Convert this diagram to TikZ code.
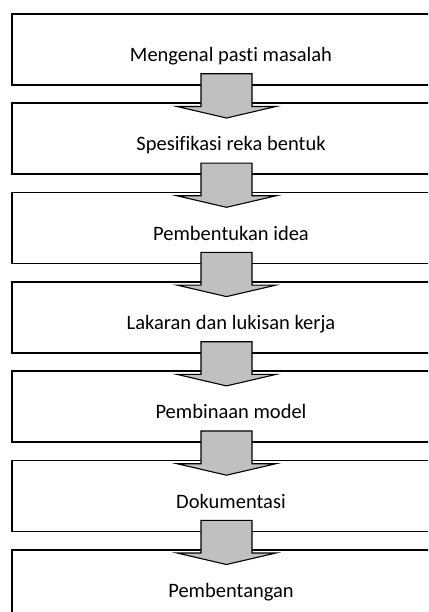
\documentclass[tikz,border=0pt]{standalone}
\usepackage{fontspec}
\setmainfont{Carlito}[Ligatures={NoCommon}]
\usepackage{color}
\definecolor{myarrowgray}{RGB}{192,192,192}
\usepackage{tikz}
\usetikzlibrary{calc}
\tikzset{stepbox/.style={draw,line width=1.6pt,fill=white,minimum width=438pt,inner sep=0pt,
  text height=47.7pt,text depth=23.3pt,font=\fontsize{20.5}{24}\selectfont}}
\tikzset{flowarrow/.style={draw,line width=1.1pt,fill=myarrowgray,line join=miter}}
% block arrow from the bottom of #1 into the top of #2
\newcommand{\flowstep}[2]{
  \path ($(#1.south)+(-4.5,-12)$) coordinate (#1t)
        ($(#2.north)+(-4.5,4)$) coordinate (#1h)
        ($(#2.north)+(-4.5,15.5)$) coordinate (#1p);
  \draw[flowarrow] ($(#1t)+(-25.5,0)$) -- ($(#1t)+(25.5,0)$) -- ($(#1h)+(25.5,0)$)
    -- ($(#1h)+(49.5,0)$) -- (#1p) -- ($(#1h)+(-49.5,0)$) -- ($(#1h)+(-25.5,0)$) -- cycle;
}

\begin{document}
\begin{tikzpicture}[x=1pt,y=-1pt]
\useasboundingbox (0,0) rectangle (428,612);
\clip (0,0) rectangle (428,612);
\draw (231, 49.5) node [stepbox] (s1) {Mengenal pasti masalah};
\draw (231, 138.8) node [stepbox] (s2) {Spesifikasi reka bentuk};
\draw (231, 228.1) node [stepbox] (s3) {Pembentukan idea};
\draw (231, 317.4) node [stepbox] (s4) {Lakaran dan lukisan kerja};
\draw (231, 406.7) node [stepbox] (s5) {Pembinaan model};
\draw (231, 496.0) node [stepbox] (s6) {Dokumentasi};
\draw (231, 585.3) node [stepbox] (s7) {Pembentangan};
\foreach \a/\b in {s1/s2,s2/s3,s3/s4,s4/s5,s5/s6,s6/s7}
  \flowstep{\a}{\b};
\end{tikzpicture}
\end{document}
